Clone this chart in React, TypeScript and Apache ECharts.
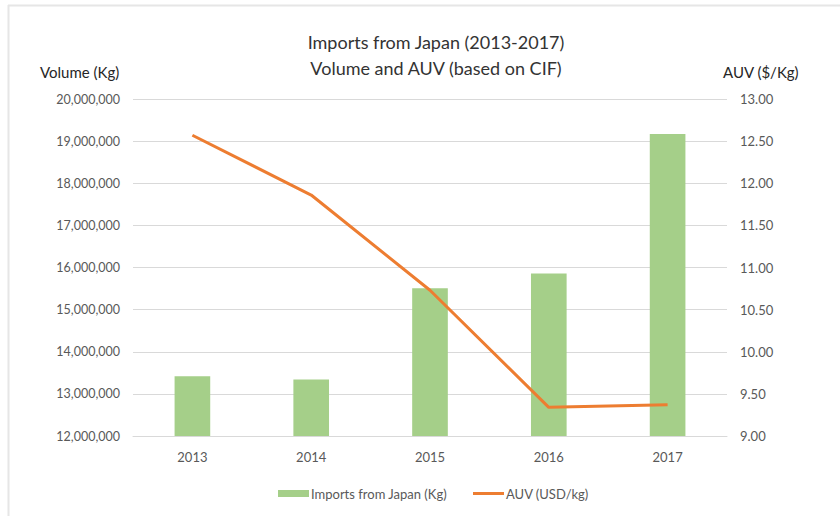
import React, { useEffect, useRef } from "react";
import * as echarts from "echarts";

const years = ["2013", "2014", "2015", "2016", "2017"];
const volumeKg = [13420000, 13340000, 15510000, 15860000, 19170000];
const auvUsdPerKg = [12.57, 11.86, 10.73, 9.34, 9.37];
const titleLines = ["Imports from Japan (2013-2017)", "Volume and AUV (based on CIF)"];
const seriesNames = ["Imports from Japan (Kg)", "AUV (USD/kg)"];

const FONT = "'Liberation Sans Narrow', Lato, 'Open Sans', sans-serif";

export default function App() {
  const ref = useRef<HTMLDivElement>(null);
  useEffect(() => {
    if (!ref.current) return;
    const chart = echarts.init(ref.current, undefined, { renderer: "svg" });
    const legendText = { fontFamily: FONT, fontSize: 13, color: "#595959", padding: [0, 0, 0, -3] };
    chart.setOption({
      animation: false,
      backgroundColor: "#ffffff",
      textStyle: { fontFamily: FONT },
      title: {
        text: titleLines.join("\n"),
        left: 431,
        textAlign: "center",
        top: 24,
        textStyle: {
          fontFamily: FONT,
          fontSize: 18,
          fontWeight: "normal",
          color: "#333333",
          lineHeight: 26,
        },
      },
      graphic: [
        { type: "line", shape: { x1: 8.5, y1: 5, x2: 8.5, y2: 516 }, style: { stroke: "#e6e6e6", lineWidth: 2 } },
        { type: "line", shape: { x1: 8, y1: 5.5, x2: 840, y2: 5.5 }, style: { stroke: "#e6e6e6", lineWidth: 2 } },
        {
          type: "text",
          left: 40,
          top: 64,
          style: { text: "Volume (Kg)", fontFamily: FONT, fontSize: 15, fill: "#262626" },
        },
        {
          type: "text",
          left: 723,
          top: 64,
          style: { text: "AUV ($/Kg)", fontFamily: FONT, fontSize: 15, fill: "#262626" },
        },
      ],
      legend: [
        {
          left: 273,
          top: 482,
          itemWidth: 31,
          itemHeight: 7,
          textStyle: legendText,
          data: [{ name: seriesNames[0], icon: "rect" }],
        },
        {
          left: 468,
          top: 482,
          itemWidth: 31,
          itemHeight: 3,
          textStyle: legendText,
          data: [{ name: seriesNames[1], icon: "rect" }],
        },
      ],
      grid: { left: 133, right: 113, top: 99, bottom: 80 },
      xAxis: {
        type: "category",
        data: years,
        axisLine: { show: true, lineStyle: { color: "#d9d9d9" } },
        axisTick: { show: false },
        axisLabel: { color: "#595959", fontSize: 13, margin: 14, fontFamily: FONT },
      },
      yAxis: [
        {
          type: "value",
          min: 12000000,
          max: 20000000,
          interval: 1000000,
          axisLine: { show: false },
          axisTick: { show: false },
          splitLine: { lineStyle: { color: "#d9d9d9" } },
          axisLabel: {
            color: "#595959",
            fontSize: 12.5,
            margin: 13,
            fontFamily: FONT,
            formatter: (v: number) => v.toLocaleString("en-US"),
          },
        },
        {
          type: "value",
          min: 9,
          max: 13,
          interval: 0.5,
          axisLine: { show: false },
          axisTick: { show: false },
          splitLine: { show: false },
          axisLabel: {
            color: "#595959",
            fontSize: 13,
            margin: 13,
            fontFamily: FONT,
            formatter: (v: number) => v.toFixed(2),
          },
        },
      ],
      series: [
        {
          name: seriesNames[0],
          type: "bar",
          data: volumeKg,
          barWidth: "30%",
          itemStyle: { color: "#a5cf89" },
        },
        {
          name: seriesNames[1],
          type: "line",
          yAxisIndex: 1,
          data: auvUsdPerKg,
          symbol: "none",
          lineStyle: { color: "#ed7d31", width: 3 },
          itemStyle: { color: "#ed7d31" },
        },
      ],
    });
    return () => chart.dispose();
  }, []);
  return <div ref={ref} style={{ width: 840, height: 516, position: "absolute", left: 0, top: 0 }} />;
}
